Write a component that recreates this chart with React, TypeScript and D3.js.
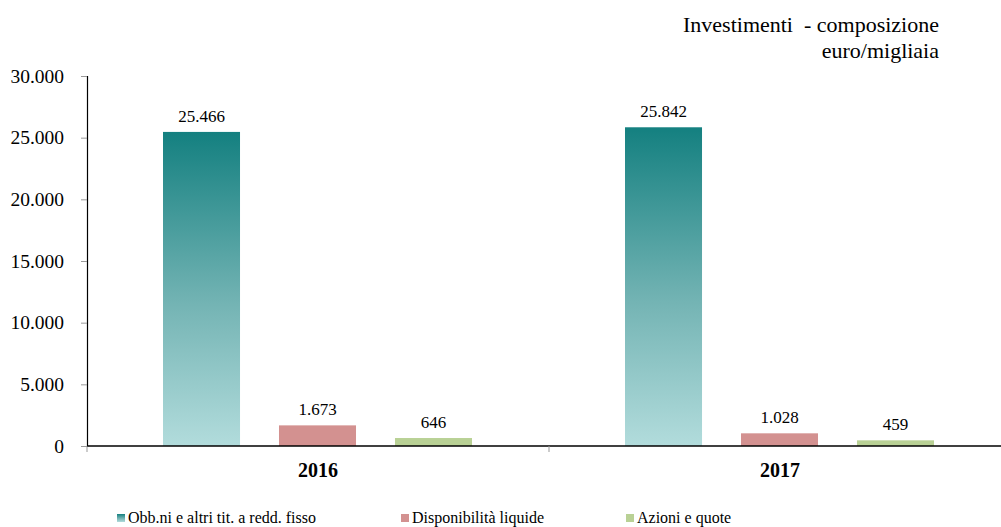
import React, { useEffect, useRef } from 'react';
import * as d3 from 'd3';

const years = ['2016', '2017'];
const seriesNames = ['Obb.ni e altri tit. a redd. fisso', 'Disponibilità liquide', 'Azioni e quote'];
const obbligazioni = [25466, 25842];
const disponibilita = [1673, 1028];
const azioni = [646, 459];
const yTicks = [0, 5000, 10000, 15000, 20000, 25000, 30000];

const colors = ['url(#obbGradient)', '#d39190', '#b9d195'];
const serif = '"Liberation Serif", "Times New Roman", serif';

const fmt = (v: number) => d3.format(',')(v).replace(/,/g, '.');

const App = () => {
  const svgRef = useRef<SVGSVGElement | null>(null);

  useEffect(() => {
    if (!svgRef.current) return;
    const root = d3.select(svgRef.current);
    root.selectAll('*').remove();

    const width = 1001;
    const height = 527;
    const margin = { top: 76, right: 0, bottom: 81, left: 87 };
    const innerW = 924;
    const innerH = height - margin.top - margin.bottom;

    const defs = root.append('defs');
    const grad = defs.append('linearGradient')
      .attr('id', 'obbGradient')
      .attr('x1', '0').attr('y1', '0').attr('x2', '0').attr('y2', '1');
    grad.append('stop').attr('offset', '0%').attr('stop-color', '#148080');
    grad.append('stop').attr('offset', '55%').attr('stop-color', '#74b4b4');
    grad.append('stop').attr('offset', '100%').attr('stop-color', '#b2dcdc');

    const svg = root.append('g').attr('transform', `translate(${margin.left},${margin.top})`);

    const x0 = d3.scaleBand().domain(years).range([0, innerW]).paddingInner(0).paddingOuter(0);
    const x1 = d3.scaleBand().domain(seriesNames).range([76, 462 - 77]).paddingInner(0.336).paddingOuter(0);
    const y = d3.scaleLinear().domain([0, 30000]).range([innerH, 0]);

    const rows = years.map((yr, i) => ({
      year: yr,
      values: [obbligazioni[i], disponibilita[i], azioni[i]],
    }));

    // Y axis
    const yAxis = svg.append('g').call(d3.axisLeft(y).tickValues(yTicks).tickSize(6).tickFormat(d => fmt(d as number)));
    yAxis.select('.domain').attr('stroke', '#000').attr('stroke-width', 1.2);
    yAxis.selectAll('.tick line').attr('stroke', '#999');
    yAxis.selectAll('text')
      .attr('x', -23)
      .attr('font-family', serif)
      .attr('font-size', 19.5)
      .attr('fill', '#000');

    // Bars
    const groups = svg.selectAll('g.year')
      .data(rows)
      .join('g')
      .attr('class', 'year')
      .attr('transform', d => `translate(${x0(d.year)},0)`);

    groups.selectAll('rect')
      .data(d => d.values.map((v, j) => ({ name: seriesNames[j], value: v, j })))
      .join('rect')
      .attr('x', d => x1(d.name)!)
      .attr('width', x1.bandwidth())
      .attr('y', d => y(d.value))
      .attr('height', d => innerH - y(d.value))
      .attr('fill', d => colors[d.j]);

    groups.selectAll('text')
      .data(d => d.values.map((v, j) => ({ name: seriesNames[j], value: v })))
      .join('text')
      .attr('x', d => x1(d.name)! + x1.bandwidth() / 2)
      .attr('y', d => y(d.value) - 10)
      .attr('text-anchor', 'middle')
      .attr('font-family', serif)
      .attr('font-size', 17)
      .attr('fill', '#000')
      .text(d => fmt(d.value));

    // X axis
    const xAxis = svg.append('g').attr('transform', `translate(0,${innerH})`);
    xAxis.append('line').attr('x1', 0).attr('x2', innerW).attr('stroke', '#000').attr('stroke-width', 1.5);
    xAxis.selectAll('line.sep')
      .data(years)
      .join('line')
      .attr('class', 'sep')
      .attr('x1', d => x0(d)!)
      .attr('x2', d => x0(d)!)
      .attr('y1', 0)
      .attr('y2', 6)
      .attr('stroke', '#999');
    xAxis.selectAll('text')
      .data(years)
      .join('text')
      .attr('x', d => x0(d)! + x0.bandwidth() / 2)
      .attr('y', 31)
      .attr('text-anchor', 'middle')
      .attr('font-family', serif)
      .attr('font-size', 20)
      .attr('font-weight', 'bold')
      .text(d => d);

    // Title
    root.append('text')
      .attr('x', 939).attr('y', 32)
      .attr('text-anchor', 'end')
      .attr('font-family', serif)
      .attr('font-size', 22)
      .style('white-space', 'pre')
      .text('Investimenti  - composizione');
    root.append('text')
      .attr('x', 939).attr('y', 58)
      .attr('text-anchor', 'end')
      .attr('font-family', serif)
      .attr('font-size', 22)
      .text('euro/migliaia');

    // Legend
    const legendX = [117, 401, 626];
    const legend = root.append('g').attr('transform', `translate(0,${height})`);
    const items = legend.selectAll('g')
      .data(seriesNames)
      .join('g')
      .attr('transform', (d, i) => `translate(${legendX[i]},0)`);
    items.append('rect')
      .attr('x', 0).attr('y', -13).attr('width', 8).attr('height', 8)
      .attr('fill', (d, i) => colors[i]);
    items.append('text')
      .attr('x', 11).attr('y', -4)
      .attr('font-family', serif)
      .attr('font-size', 16)
      .text(d => d);

    root.attr('width', width).attr('height', height);
  }, []);

  return (
    <div style={{ position: 'absolute', left: 0, top: 0 }}>
      <svg ref={svgRef} width={1001} height={527} style={{ display: 'block' }} />
    </div>
  );
};

export default App;
